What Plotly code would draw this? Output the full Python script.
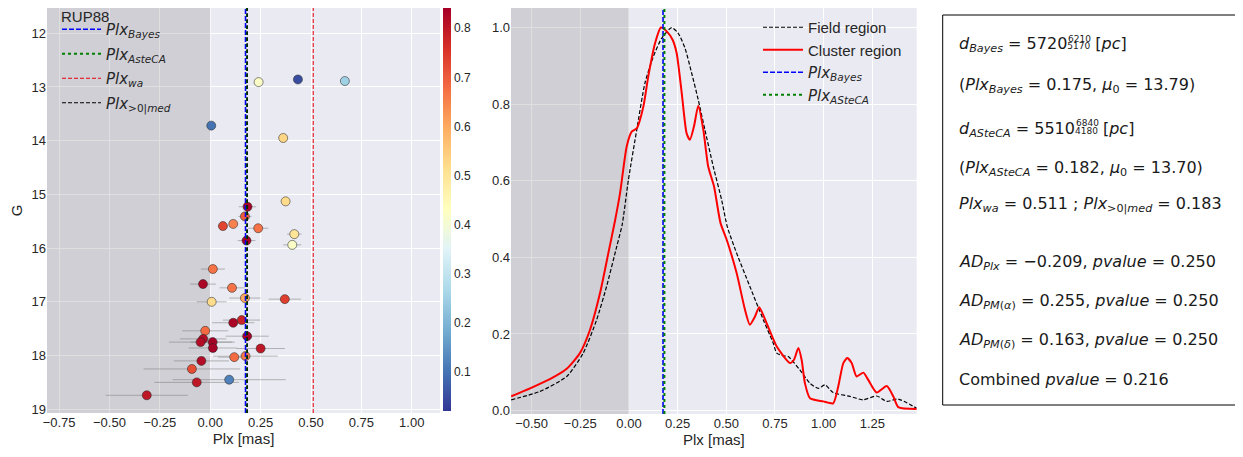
import plotly.graph_objects as go

# ---------------- data ----------------
# left panel: cluster members
plx = [0.24, 0.435, 0.668, 0.005, 0.362, 0.374, 0.185, 0.172, 0.114, 0.063, 0.238, 0.417,
       0.18, 0.407, 0.013, -0.036, 0.108, 0.172, 0.37, 0.007, 0.156, 0.114, -0.025, 0.183,
       -0.035, -0.048, 0.012, 0.013, 0.25, 0.119, 0.175, -0.044, -0.091, 0.094, -0.067, -0.315]
gmag = [12.91, 12.86, 12.89, 13.72, 13.95, 15.13, 15.23, 15.41, 15.55, 15.59, 15.63, 15.74,
        15.86, 15.94, 16.39, 16.67, 16.74, 16.93, 16.95, 17.0, 17.34, 17.39, 17.54, 17.64,
        17.69, 17.75, 17.75, 17.86, 17.87, 18.03, 18.01, 18.10, 18.25, 18.45, 18.50, 18.74]
plx_err = [0.015, 0.012, 0.015, 0.012, 0.015, 0.02, 0.043, 0.033, 0.02, 0.025, 0.05, 0.036,
           0.044, 0.045, 0.06, 0.064, 0.062, 0.078, 0.08, 0.074, 0.093, 0.105, 0.114, 0.107,
           0.115, 0.157, 0.11, 0.12, 0.12, 0.08, 0.16, 0.137, 0.24, 0.28, 0.21, 0.204]
memb_prob = [0.42, 0.05, 0.25, 0.10, 0.53, 0.52, 0.84, 0.70, 0.65, 0.73, 0.67, 0.50,
             0.84, 0.42, 0.67, 0.83, 0.67, 0.60, 0.74, 0.52, 0.78, 0.83, 0.68, 0.84,
             0.82, 0.82, 0.84, 0.84, 0.80, 0.68, 0.66, 0.82, 0.72, 0.12, 0.80, 0.80]

# reference parallax values
plx_bayes = 0.175
plx_asteca = 0.182
plx_wa = 0.511
plx_med = 0.183

# middle panel: normalised KDEs
cl_x = [-0.605, -0.508, -0.406, -0.32, -0.252, -0.2, -0.149, -0.106, -0.072, -0.046, -0.012,
        0.014, 0.04, 0.074, 0.099, 0.134, 0.164, 0.194, 0.224, 0.245, 0.271, 0.296, 0.313,
        0.334, 0.356, 0.382, 0.407, 0.437, 0.47, 0.502, 0.553, 0.596, 0.621, 0.647, 0.669,
        0.707, 0.759, 0.827, 0.847, 0.87, 0.887, 0.904, 0.93, 0.998, 1.049, 1.075, 1.101,
        1.121, 1.144, 1.169, 1.204, 1.229, 1.272, 1.324, 1.358, 1.383, 1.478]
cl_y = [0.037, 0.058, 0.082, 0.109, 0.150, 0.211, 0.306, 0.411, 0.495, 0.567, 0.689,
        0.728, 0.737, 0.794, 0.872, 0.959, 1.0, 0.99, 0.968, 0.933, 0.829, 0.724, 0.707,
        0.742, 0.796, 0.733, 0.637, 0.585, 0.49, 0.446, 0.359, 0.263, 0.224, 0.245, 0.27,
        0.228, 0.167, 0.124, 0.132, 0.163, 0.132, 0.071, 0.032, 0.024, 0.019, 0.063, 0.124,
        0.137, 0.124, 0.089, 0.099, 0.08, 0.047, 0.064, 0.037, 0.009, 0.004]
fl_x = [-0.605, -0.457, -0.32, -0.235, -0.166, -0.115, -0.063, -0.035, -0.003, 0.04, 0.082,
        0.125, 0.168, 0.219, 0.253, 0.288, 0.322, 0.356, 0.39, 0.433, 0.476, 0.505, 0.553,
        0.621, 0.69, 0.741, 0.759, 0.793, 0.818, 0.878, 0.93, 0.972, 1.007, 1.049, 1.135,
        1.203, 1.272, 1.324, 1.383, 1.478]
fl_y = [0.028, 0.05, 0.089, 0.150, 0.237, 0.324, 0.428, 0.485, 0.602, 0.733, 0.855,
        0.924, 0.972, 1.0, 0.985, 0.946, 0.881, 0.811, 0.733, 0.637, 0.55, 0.48, 0.411,
        0.324, 0.237, 0.176, 0.150, 0.143, 0.141, 0.106, 0.071, 0.058, 0.067, 0.047, 0.037,
        0.028, 0.038, 0.024, 0.03, 0.006]

left_x_ticks = [-0.75, -0.5, -0.25, 0.0, 0.25, 0.5, 0.75, 1.0]
left_y_ticks = [12, 13, 14, 15, 16, 17, 18, 19]
mid_x_ticks = [-0.5, -0.25, 0.0, 0.25, 0.5, 0.75, 1.0, 1.25]
mid_y_ticks = [0.0, 0.2, 0.4, 0.6, 0.8, 1.0]
cbar_ticks = [0.1, 0.2, 0.3, 0.4, 0.5, 0.6, 0.7, 0.8]

# ---------------- layout constants ----------------
# the page body has an 8px margin, so the figure starts at screen (8, 8)
OFF = 8
W, H = 1243 - OFF, 457 - OFF
L_XR = [-0.81, 1.14]
L_YR = [19.07, 11.53]
M_XR = [-0.606, 1.478]
M_YR = [-0.009, 1.051]

def px(x):
    return (x - OFF) / W

def py(y):
    return 1 - (y - OFF) / H

BG = "#EAEAF2"
TXT = "#262626"
SHADE = "rgba(128,128,128,0.25)"

fig = go.Figure()

# sort so high-probability stars are drawn on top
order = sorted(range(len(plx)), key=lambda i: memb_prob[i])
fig.add_trace(go.Scatter(
    x=[plx[i] for i in order], y=[gmag[i] for i in order],
    mode="markers", xaxis="x", yaxis="y", showlegend=False,
    error_x=dict(type="data", array=[plx_err[i] for i in order], color="rgba(128,128,128,0.55)",
                 thickness=1, width=0),
    marker=dict(size=9, color=[memb_prob[i] for i in order], colorscale="RdYlBu_r",
                cmin=0.021, cmax=0.841, line=dict(color="rgba(40,40,40,0.9)", width=0.6),
                colorbar=dict(x=px(443), xanchor="left", y=py(209.5), yanchor="middle",
                              len=403 / H, lenmode="fraction", thickness=8, outlinewidth=0,
                              tickvals=cbar_ticks, ticks="", ticklabelposition="outside",
                              tickfont=dict(family="Liberation Sans", size=12, color=TXT),
                              xpad=0, ypad=0)),
))

def vline(xv, name, color, dash, width, xa, ya, yr, legend, group):
    fig.add_trace(go.Scatter(x=[xv, xv], y=yr, mode="lines", xaxis=xa, yaxis=ya,
                             name=name, legend=legend, legendgroup=group,
                             line=dict(color=color, dash=dash, width=width)))

def plx_lab(sub):
    return ("<span style='font-family:DejaVu Sans'><i>Plx</i><sub><i>" + sub + "</i></sub></span>")

vline(plx_bayes, plx_lab("Bayes"), "#0000FF", "5px,2px", 1.6, "x", "y", L_YR, "legend", "a1")
vline(plx_asteca, plx_lab("AsteCA"), "#008000", "dot", 2, "x", "y", L_YR, "legend", "a2")
vline(plx_wa, plx_lab("wa"), "#E8000B", "4px,2px", 1, "x", "y", L_YR, "legend", "a3")
vline(plx_med, "<span style='font-family:DejaVu Sans'><i>Plx</i><sub>&gt;0|<i>med</i></sub></span>",
      "#000000", "4px,2px", 1.2, "x", "y", L_YR, "legend", "a4")

# middle panel
fig.add_trace(go.Scatter(x=fl_x, y=fl_y, mode="lines", xaxis="x2", yaxis="y2", name="Field region",
                         legend="legend2", line=dict(color="black", dash="4px,2px", width=1.2,
                                                     shape="spline", smoothing=0.6)))
fig.add_trace(go.Scatter(x=cl_x, y=cl_y, mode="lines", xaxis="x2", yaxis="y2", name="Cluster region",
                         legend="legend2", line=dict(color="#FF0000", width=2,
                                                     shape="spline", smoothing=0.6)))
vline(plx_bayes, plx_lab("Bayes"), "#0000FF", "5px,2px", 1.6, "x2", "y2", M_YR, "legend2", None)
vline(plx_asteca, plx_lab("ASteCA"), "#008000", "dot", 2, "x2", "y2", M_YR, "legend2", None)

axis_common = dict(showgrid=True, gridcolor="white", gridwidth=1.3, zeroline=False, showline=False,
                   automargin=False,
                   ticks="", tickfont=dict(family="Liberation Sans", size=13, color=TXT))
fig.update_layout(
    width=W, height=H, margin=dict(l=0, r=0, t=0, b=0, autoexpand=False),
    paper_bgcolor="white", plot_bgcolor=BG,
    font=dict(family="Liberation Sans", color=TXT),
    xaxis=dict(domain=[px(47), px(440)], range=L_XR, tickvals=left_x_ticks, tickformat=".2f",
               anchor="y", title=dict(text="Plx [mas]", font=dict(size=15), standoff=4), **axis_common),
    yaxis=dict(domain=[py(413), py(8)], range=L_YR, tickvals=left_y_ticks, anchor="x",
               title=dict(text="G", font=dict(size=15), standoff=10), **axis_common),
    xaxis2=dict(domain=[px(511), px(916.7)], range=M_XR, tickvals=mid_x_ticks, tickformat=".2f",
                anchor="y2", title=dict(text="Plx [mas]", font=dict(size=15), standoff=4), **axis_common),
    yaxis2=dict(domain=[py(414), py(8)], range=M_YR, tickvals=mid_y_ticks, tickformat=".1f",
                anchor="x2", **axis_common),
    legend=dict(x=px(57), y=py(13), xanchor="left", yanchor="top", bgcolor="rgba(0,0,0,0)",
                font=dict(size=15, color=TXT), tracegroupgap=2, itemwidth=39,
                traceorder="grouped"),
    legend2=dict(x=px(758), y=py(11), xanchor="left", yanchor="top", bgcolor="rgba(0,0,0,0)",
                 font=dict(size=15, color=TXT), tracegroupgap=0, itemwidth=40),
)

fig.add_annotation(x=px(60), y=py(16), xref="paper", yref="paper", text="RUP88", showarrow=False,
                   xanchor="left", yanchor="middle", borderpad=0,
                   font=dict(family="Liberation Sans", size=15, color=TXT))

# shaded negative-parallax regions
fig.add_shape(type="rect", xref="x", yref="y", x0=L_XR[0], x1=0, y0=L_YR[0], y1=L_YR[1],
              fillcolor=SHADE, line=dict(width=0), layer="between")
fig.add_shape(type="rect", xref="x2", yref="y2", x0=M_XR[0], x1=0, y0=M_YR[0], y1=M_YR[1],
              fillcolor=SHADE, line=dict(width=0), layer="between")

# text box
fig.add_shape(type="rect", xref="paper", yref="paper", x0=px(942.7), x1=px(1255), y0=py(405), y1=py(15),
              line=dict(color="black", width=1), fillcolor="rgba(0,0,0,0)")

TF = dict(family="DejaVu Sans", size=16, color="#1a1a1a")
SF = dict(family="DejaVu Sans", size=9, color="#1a1a1a")

def txt(x, y, s, f=TF):
    fig.add_annotation(x=px(x), y=py(y), xref="paper", yref="paper", text=s, showarrow=False,
                       xanchor="left", yanchor="middle", font=f, align="left", borderpad=0)

def small(s):
    return "<span style='font-size:9px'>" + s + "</span>"

X0 = 958
# distance lines: lower limit inline on the baseline, upper limit as a raised label
txt(X0, 45, "<i>d</i><sub><i>Bayes</i></sub> = 5720" + small("5170") + " [<i>pc</i>]")
txt(1066.5, 39, "6210", SF)
txt(X0, 85, "(<i>Plx</i><sub><i>Bayes</i></sub> = 0.175, <i>μ</i><sub>0</sub> = 13.79)")
txt(X0, 129, "<i>d</i><sub><i>ASteCA</i></sub> = 5510" + small("4180") + " [<i>pc</i>]")
txt(1075, 123, "6840", SF)
txt(X0, 168, "(<i>Plx</i><sub><i>ASteCA</i></sub> = 0.182, <i>μ</i><sub>0</sub> = 13.70)")
txt(X0, 204, "<i>Plx</i><sub><i>wa</i></sub> = 0.511 ; <i>Plx</i><sub>&gt;0|<i>med</i></sub> = 0.183")
txt(X0, 262, "<i>AD</i><sub><i>Plx</i></sub> = −0.209, <i>pvalue</i> = 0.250")
txt(X0, 301, "<i>AD</i><sub><i>PM</i>(<i>α</i>)</sub> = 0.255, <i>pvalue</i> = 0.250")
txt(X0, 340, "<i>AD</i><sub><i>PM</i>(<i>δ</i>)</sub> = 0.163, <i>pvalue</i> = 0.250")
txt(X0, 379, "Combined <i>pvalue</i> = 0.216")

fig.write_html("out.html")
